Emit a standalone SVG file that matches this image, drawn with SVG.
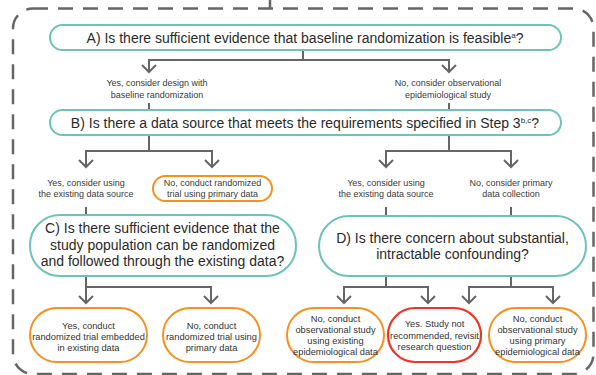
<svg xmlns="http://www.w3.org/2000/svg" width="596" height="375" viewBox="0 0 596 375">
<defs>
<marker id="chev" markerUnits="userSpaceOnUse" markerWidth="20" markerHeight="20" viewBox="-10 -10 20 20" refX="0" refY="0" orient="auto" overflow="visible">
<path d="M-7,-7 L0,0 L-7,7" fill="none" stroke="#666" stroke-width="2"/>
</marker>
<style>
.q{fill:#fff;stroke:#6cc4b8;stroke-width:2}
.o{fill:#fff;stroke:#f7901e;stroke-width:2}
.r{fill:#fff;stroke:#ee3524;stroke-width:2.2}
.conn path{fill:none;stroke:#666;stroke-width:2}
.arr{marker-end:url(#chev)}
.qt{font-family:"Liberation Sans",Arial,sans-serif;font-size:14px;fill:#2a2a2a;text-anchor:middle}
.lt{font-family:"Liberation Sans",Arial,sans-serif;font-size:9px;fill:#3a3a3a;text-anchor:middle}
.bt{font-family:"Liberation Sans",Arial,sans-serif;font-size:9.3px;fill:#333;text-anchor:middle}
</style>
</defs>
<rect width="596" height="375" fill="#fff"/>
<g id="frame">
<path d="M33,8.5 H573.5 A20,20 0 0 1 593.5,28.5 V354 A20,20 0 0 1 573.5,374 H33 A20,20 0 0 1 13,354 V28.5 A20,20 0 0 1 33,8.5 Z" fill="none" stroke="#666" stroke-width="2.5" stroke-dasharray="15 10"/>
<path d="M270,0 V8.5" fill="none" stroke="#666" stroke-width="2.5"/>
</g>
<g class="conn" id="connectors">
<path d="M303,50 V60 H149 V72" class="arr"/>
<path d="M303,60 H449 V72" class="arr"/>
<path d="M149,103 V110"/>
<path d="M449,103 V110"/>
<path d="M149,135 V151 H86 V167" class="arr"/>
<path d="M149,151 H212 V167" class="arr"/>
<path d="M449,135 V151 H386 V167" class="arr"/>
<path d="M449,151 H511 V167" class="arr"/>
<path d="M86,207 V215"/>
<path d="M386,207 V216"/>
<path d="M511,207 V216"/>
<path d="M86,276 V303" class="arr"/>
<path d="M86,287 H211 V303" class="arr"/>
<path d="M386,276 V287 H344 V303" class="arr"/>
<path d="M386,287 H428 V303" class="arr"/>
<path d="M511,276 V287 H469 V303" class="arr"/>
<path d="M511,287 H553 V303" class="arr"/>
</g>
<g id="nodeA">
<rect class="q" x="50" y="25" width="511" height="25" rx="12.5"/>
<text class="qt" x="305" y="42.5">A) Is there sufficient evidence that baseline randomization is feasible<tspan font-size="8" dy="-5">a</tspan><tspan dy="5">?</tspan></text>
</g>
<g id="labelA-yes">
<text class="lt" x="157" y="86">Yes, consider design with</text>
<text class="lt" x="157" y="98">baseline randomization</text>
</g>
<g id="labelA-no">
<text class="lt" x="448" y="86">No, consider observational</text>
<text class="lt" x="448" y="98">epidemiological study</text>
</g>
<g id="nodeB">
<rect class="q" x="50" y="110" width="511" height="25" rx="12.5"/>
<text class="qt" x="305" y="127.5">B) Is there a data source that meets the requirements specified in Step 3<tspan font-size="8" dy="-5">b,c</tspan><tspan dy="5">?</tspan></text>
</g>
<g id="labelB-yes-left">
<text class="lt" x="86" y="186">Yes, consider using</text>
<text class="lt" x="86" y="197">the existing data source</text>
</g>
<g id="nodeB-no-left">
<rect class="o" x="153" y="176" width="119" height="25" rx="12.5"/>
<text class="lt" x="212.5" y="186">No, conduct randomized</text>
<text class="lt" x="212.5" y="197">trial using primary data</text>
</g>
<g id="labelB-yes-right">
<text class="lt" x="386" y="186">Yes, consider using</text>
<text class="lt" x="386" y="197">the existing data source</text>
</g>
<g id="labelB-no-right">
<text class="lt" x="511" y="186">No, consider primary</text>
<text class="lt" x="511" y="197">data collection</text>
</g>
<g id="nodeC">
<rect class="q" x="30" y="215" width="266" height="61" rx="30"/>
<text class="qt" x="162.5" y="233">C) Is there sufficient evidence that the</text>
<text class="qt" x="162.5" y="250">study population can be randomized</text>
<text class="qt" x="162.5" y="266">and followed through the existing data?</text>
</g>
<g id="nodeD">
<rect class="q" x="319" y="216" width="267" height="60" rx="30"/>
<text class="qt" x="452.5" y="243">D) Is there concern about substantial,</text>
<text class="qt" x="452.5" y="258.5">intractable confounding?</text>
</g>
<g id="out1">
<rect class="o" x="30" y="308" width="117" height="54" rx="27"/>
<text class="bt" x="88.5" y="328.5">Yes, conduct</text>
<text class="bt" x="88.5" y="339.5">randomized trial embedded</text>
<text class="bt" x="88.5" y="350.5">in existing data</text>
</g>
<g id="out2">
<rect class="o" x="163" y="308" width="97" height="54" rx="27"/>
<text class="bt" x="211.5" y="328.5">No, conduct</text>
<text class="bt" x="211.5" y="339.5">randomized trial using</text>
<text class="bt" x="211.5" y="350.5">primary data</text>
</g>
<g id="out3">
<rect class="o" x="287" y="308" width="97" height="54" rx="27"/>
<text class="bt" x="335.5" y="321.5">No, conduct</text>
<text class="bt" x="335.5" y="332.5">observational study</text>
<text class="bt" x="335.5" y="343.5">using existing</text>
<text class="bt" x="335.5" y="354.5">epidemiological data</text>
</g>
<g id="out4">
<rect class="r" x="388" y="308" width="93" height="54" rx="27"/>
<text class="bt" x="434.5" y="327">Yes. Study not</text>
<text class="bt" x="434.5" y="338.5">recommended, revisit</text>
<text class="bt" x="434.5" y="350">research question</text>
</g>
<g id="out5">
<rect class="o" x="489" y="308" width="97" height="54" rx="27"/>
<text class="bt" x="537.5" y="321.5">No, conduct</text>
<text class="bt" x="537.5" y="332.5">observational study</text>
<text class="bt" x="537.5" y="343.5">using primary</text>
<text class="bt" x="537.5" y="354.5">epidemiological data</text>
</g>
</svg>
